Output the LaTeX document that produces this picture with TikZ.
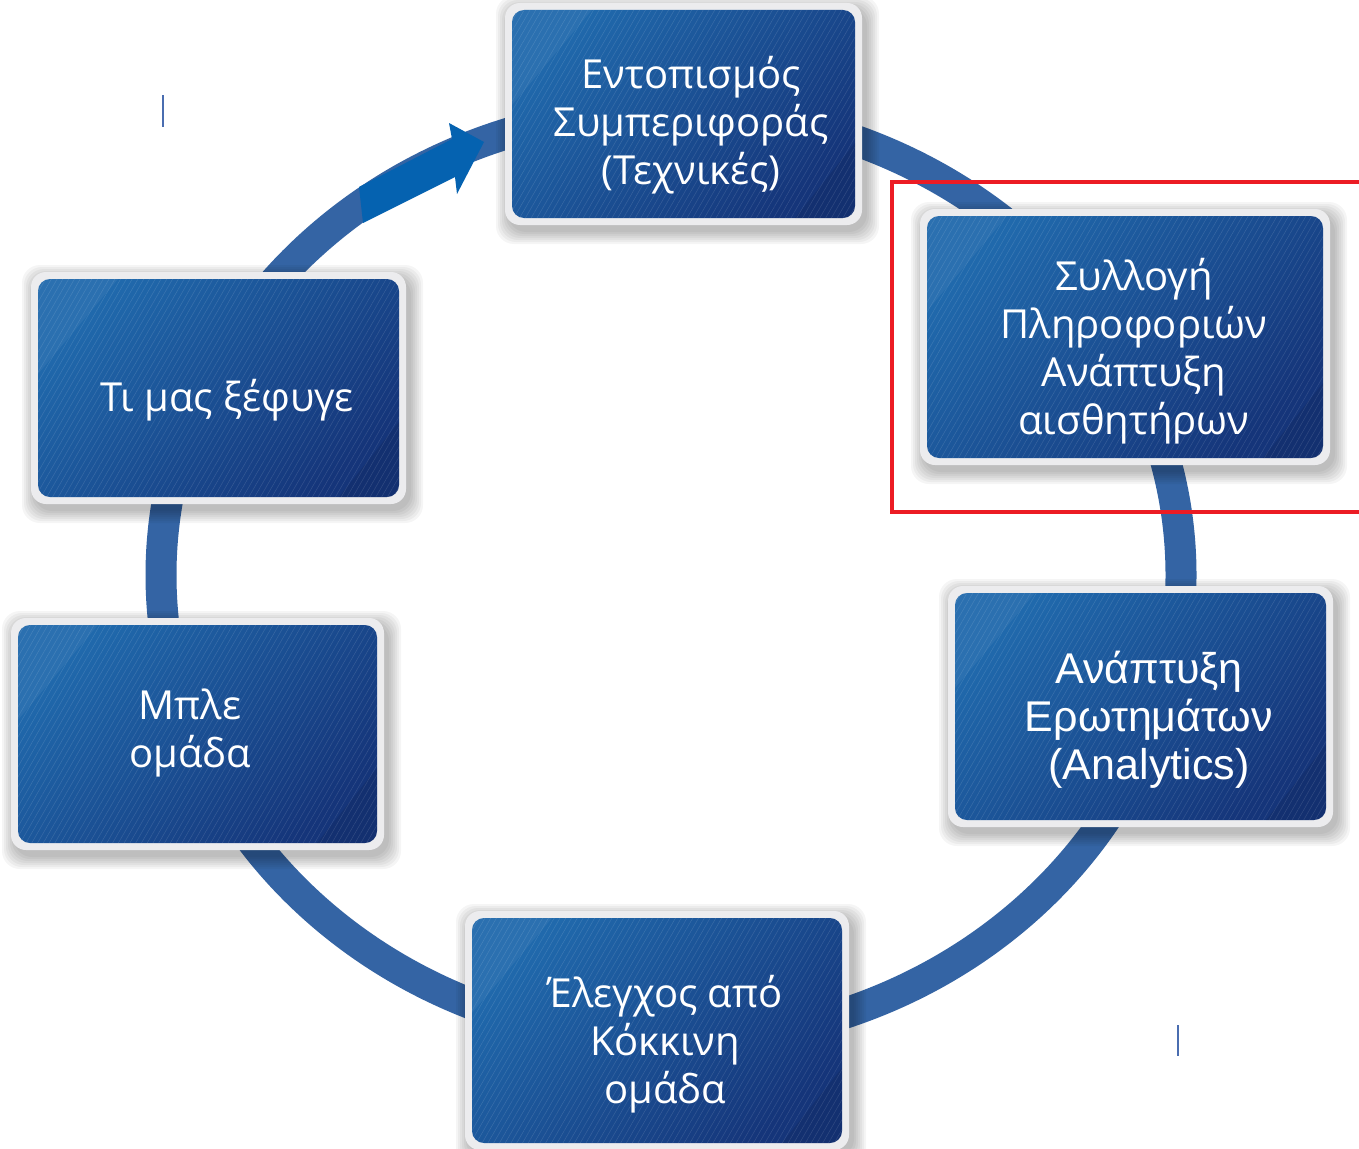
\documentclass[tikz,border=0pt]{standalone}
\usepackage{fontspec}
\setmainfont{Open Sans}
\newfontfamily\arialf{Liberation Sans}
\usetikzlibrary{fit,patterns.meta}
\definecolor{ringblue}{HTML}{3464A4}
\definecolor{arrowblue}{HTML}{0562B0}
\definecolor{boxA}{HTML}{2069AC}
\definecolor{boxB}{HTML}{15357A}
\definecolor{framegray}{HTML}{ECECEE}
\definecolor{redframe}{HTML}{EC1C24}
\definecolor{tickblue}{HTML}{4A6DB0}
\tikzset{
  ring/.style={draw=ringblue, line width=31pt},
  panelbox/.style={inner sep=0pt, rounded corners=12pt, top color=boxA, bottom color=boxB, shading angle=45, draw=none},
  boxtext/.style={text=white, align=center, font=\fontsize{40}{48}\selectfont, inner sep=0pt},
  tick/.style={draw=tickblue, line width=1.5pt},
}
\newcommand\panel[5]{%
  \foreach \s in {1,3,...,13}{%
    \fill[black, opacity=0.04, rounded corners=18pt] (#2-7+4-\s,#3-7+6-\s) rectangle (#4+7+4+\s,#5+7+6+\s);
  }
  \fill[framegray, rounded corners=15pt] (#2-7,#3-7) rectangle (#4+7,#5+7);
  \node[panelbox, fit={(#2,#3)(#4,#5)}] (#1) {};
  \begin{scope}
    \clip[rounded corners=12pt] (#2,#3) rectangle (#4,#5);
    \fill[white, opacity=0.05] (#2,#3) -- (#2+80,#3) -- (#2,#3+95) -- cycle;
    \fill[black, opacity=0.08] (#4,#5) -- (#4-60,#5) -- (#4,#5-75) -- cycle;
    \fill[pattern={Lines[angle=60,distance=5pt,line width=0.5pt]}, pattern color=white, opacity=0.13] (#2,#3) rectangle (#4,#5);
  \end{scope}
}
\begin{document}
\begin{tikzpicture}[x=1pt,y=-1pt]
\useasboundingbox (0,0) rectangle (1359,1148);
\clip (0,0) rectangle (1359,1148);
\fill[white] (0,0) rectangle (1359,1148);
% ring
\draw[ring] (671,575) ellipse [x radius=510pt, y radius=466pt];
% arrow
\fill[arrowblue] (359,187) -- (452,139) -- (449,123) -- (484,142) -- (457,194) -- (455,177) -- (363,223) -- cycle;
% small ticks
\coordinate (k1a) at (163,95); \coordinate (k1b) at (163,127);
\coordinate (k2a) at (1178,1025); \coordinate (k2b) at (1178,1056);
\draw[tick] (k1a) -- (k1b);
\draw[tick] (k2a) -- (k2b);
% panels
\panel{b1}{512}{10}{855}{218}
\panel{b2}{927}{216}{1323}{458}
\panel{b3}{955}{593}{1326}{820}
\panel{b4}{472}{918}{842}{1143}
\panel{b5}{18}{625}{377}{843}
\panel{b6}{38}{279}{399}{497}
% texts
\node[boxtext] (t1) at (691,125) {Εντοπισμός\\Συμπεριφοράς\\(Τεχνικές)};
\node[boxtext] (t2) at (1134,351) {Συλλογή\\Πληροφοριών\\Ανάπτυξη\\αισθητήρων};
\node[boxtext, font=\arialf\fontsize{43}{48}\selectfont] (t3) at (1149,720) {Ανάπτυξη\\Ερωτημάτων\\(Analytics)};
\node[boxtext] (t4) at (665,1044) {Έλεγχος από\\Κόκκινη\\ομάδα};
\node[boxtext] (t5) at (190,733) {Μπλε\\ομάδα};
\node[boxtext] (t6) at (227,400) {Τι μας ξέφυγε};
% red highlight frame
\draw[draw=redframe, line width=4pt] (892,182) rectangle (1375,512);
\end{tikzpicture}
\end{document}
